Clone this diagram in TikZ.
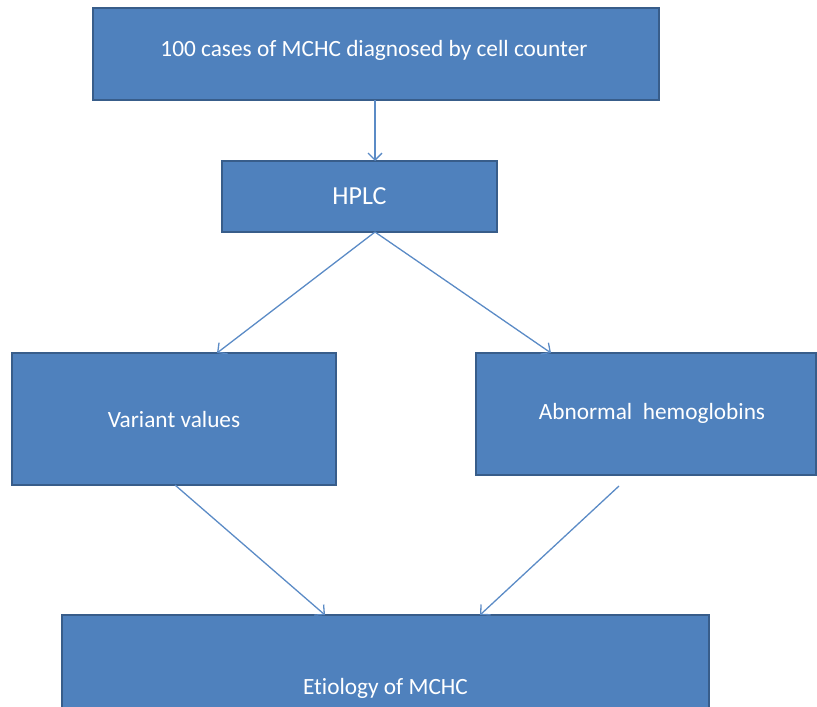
\documentclass[tikz,border=0pt]{standalone}
\usepackage{fontspec}
\setmainfont{Carlito}[Ligatures=NoCommon]
\usetikzlibrary{arrows.meta,positioning,calc}
\definecolor{boxfill}{HTML}{4F81BD}
\definecolor{boxline}{HTML}{385D8A}
\definecolor{arrowc}{HTML}{5B8BC6}
\tikzset{
  box/.style={draw=boxline, line width=1.6pt, fill=boxfill, text=white, inner sep=0pt, outer sep=0pt, font=\fontsize{23.3}{28}\selectfont},
  conn/.style={draw=arrowc, line width=1.3pt, -{Straight Barb[length=7pt,width=14pt,line width=1.3pt]}}
}
\begin{document}
\begin{tikzpicture}[x=1pt,y=-1pt]
\useasboundingbox (0,0) rectangle (817,707);
% boxes
\node[box, minimum width=566pt, minimum height=92pt] (top) at (376,54) {};
\node[text=white, font=\fontsize{23.3}{28}\selectfont] (toptext) at (374,50) {100 cases of MCHC diagnosed by cell counter};
\node[box, minimum width=275pt, minimum height=71pt, font=\fontsize{26}{30}\selectfont] (hplc) at (359.5,196.5) {HPLC};
\node[box, minimum width=324pt, minimum height=132pt] (var) at (174,419) {Variant values};
\node[box, minimum width=340pt, minimum height=122pt] (abn) at (646,414) {};
\node[text=white, font=\fontsize{23.3}{28}\selectfont] (abntext) at (652,413) {Abnormal\ \ hemoglobins};
\node[box, minimum width=647pt, minimum height=146pt] (eti) at (385.5,688) {Etiology of MCHC};
% connector end points
\coordinate (ts) at ([xshift=-1pt]top.south);
\coordinate (hn) at ([xshift=15.5pt]hplc.north);
\coordinate (hs) at ([xshift=15.5pt]hplc.south);
\coordinate (vin) at ([xshift=205pt]var.north west);
\coordinate (ain) at ([xshift=75pt]abn.north west);
\coordinate (vout) at ([xshift=163pt]var.south west);
\coordinate (aout) at ([xshift=143pt,yshift=-11pt]abn.south west);
\coordinate (ein1) at ([xshift=263pt]eti.north west);
\coordinate (ein2) at ([xshift=418pt]eti.north west);
% connectors
\draw[conn] (ts) -- (hn);
\draw[conn] (hs) -- (vin);
\draw[conn] (hs) -- (ain);
\draw[conn] (vout) -- (ein1);
\draw[conn] (aout) -- (ein2);
\end{tikzpicture}
\end{document}
